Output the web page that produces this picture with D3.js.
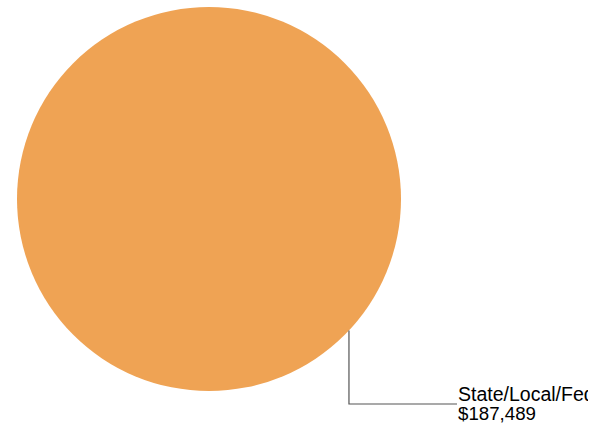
<!DOCTYPE html>
<html>
<head>
<meta charset="utf-8">
<script src="https://cdn.jsdelivr.net/npm/d3@7"></script>
<style>
  html, body { margin: 0; padding: 0; background: #fff; }
  svg { display: block; overflow: hidden; }
</style>
</head>
<body>
<script>
const categories = ["State/Local/Fed"];
const values = [187489];
const colors = ["#EFA354"];

const width = 588, height = 425;
const cx = 209, cy = 199, radius = 192;

const svg = d3.select("body").append("svg")
  .attr("width", width).attr("height", height);

const pie = d3.pie().sort(null).value(d => d)(values);
const arc = d3.arc().innerRadius(0).outerRadius(radius);

const g = svg.append("g").attr("transform", `translate(${cx},${cy})`);
g.selectAll("path").data(pie).enter().append("path")
  .attr("d", arc)
  .attr("fill", (d, i) => colors[i]);

// label leader line
const labelAngle = (133.2 / 180) * Math.PI;
const fmt = d3.format("$,");
pie.forEach((d, i) => {
  const sx = Math.sin(labelAngle) * radius;
  const sy = -Math.cos(labelAngle) * radius;
  const elbowY = 205;
  const endX = 248;
  g.append("polyline")
    .attr("points", `${sx},${sy} ${sx},${elbowY} ${endX},${elbowY}`)
    .attr("fill", "none")
    .attr("stroke", "#555")
    .attr("stroke-width", 1.2);
  const t = g.append("text")
    .attr("x", endX + 1)
    .attr("y", elbowY - 3)
    .attr("font-family", "Liberation Sans, Arial, sans-serif")
    .attr("fill", "#000");
  t.append("tspan").attr("x", endX + 1).attr("font-size", 19.5).text(categories[i]);
  t.append("tspan").attr("x", endX + 1).attr("dy", 19).attr("font-size", 18.7).text(fmt(values[i]));
});
</script>
</body>
</html>
